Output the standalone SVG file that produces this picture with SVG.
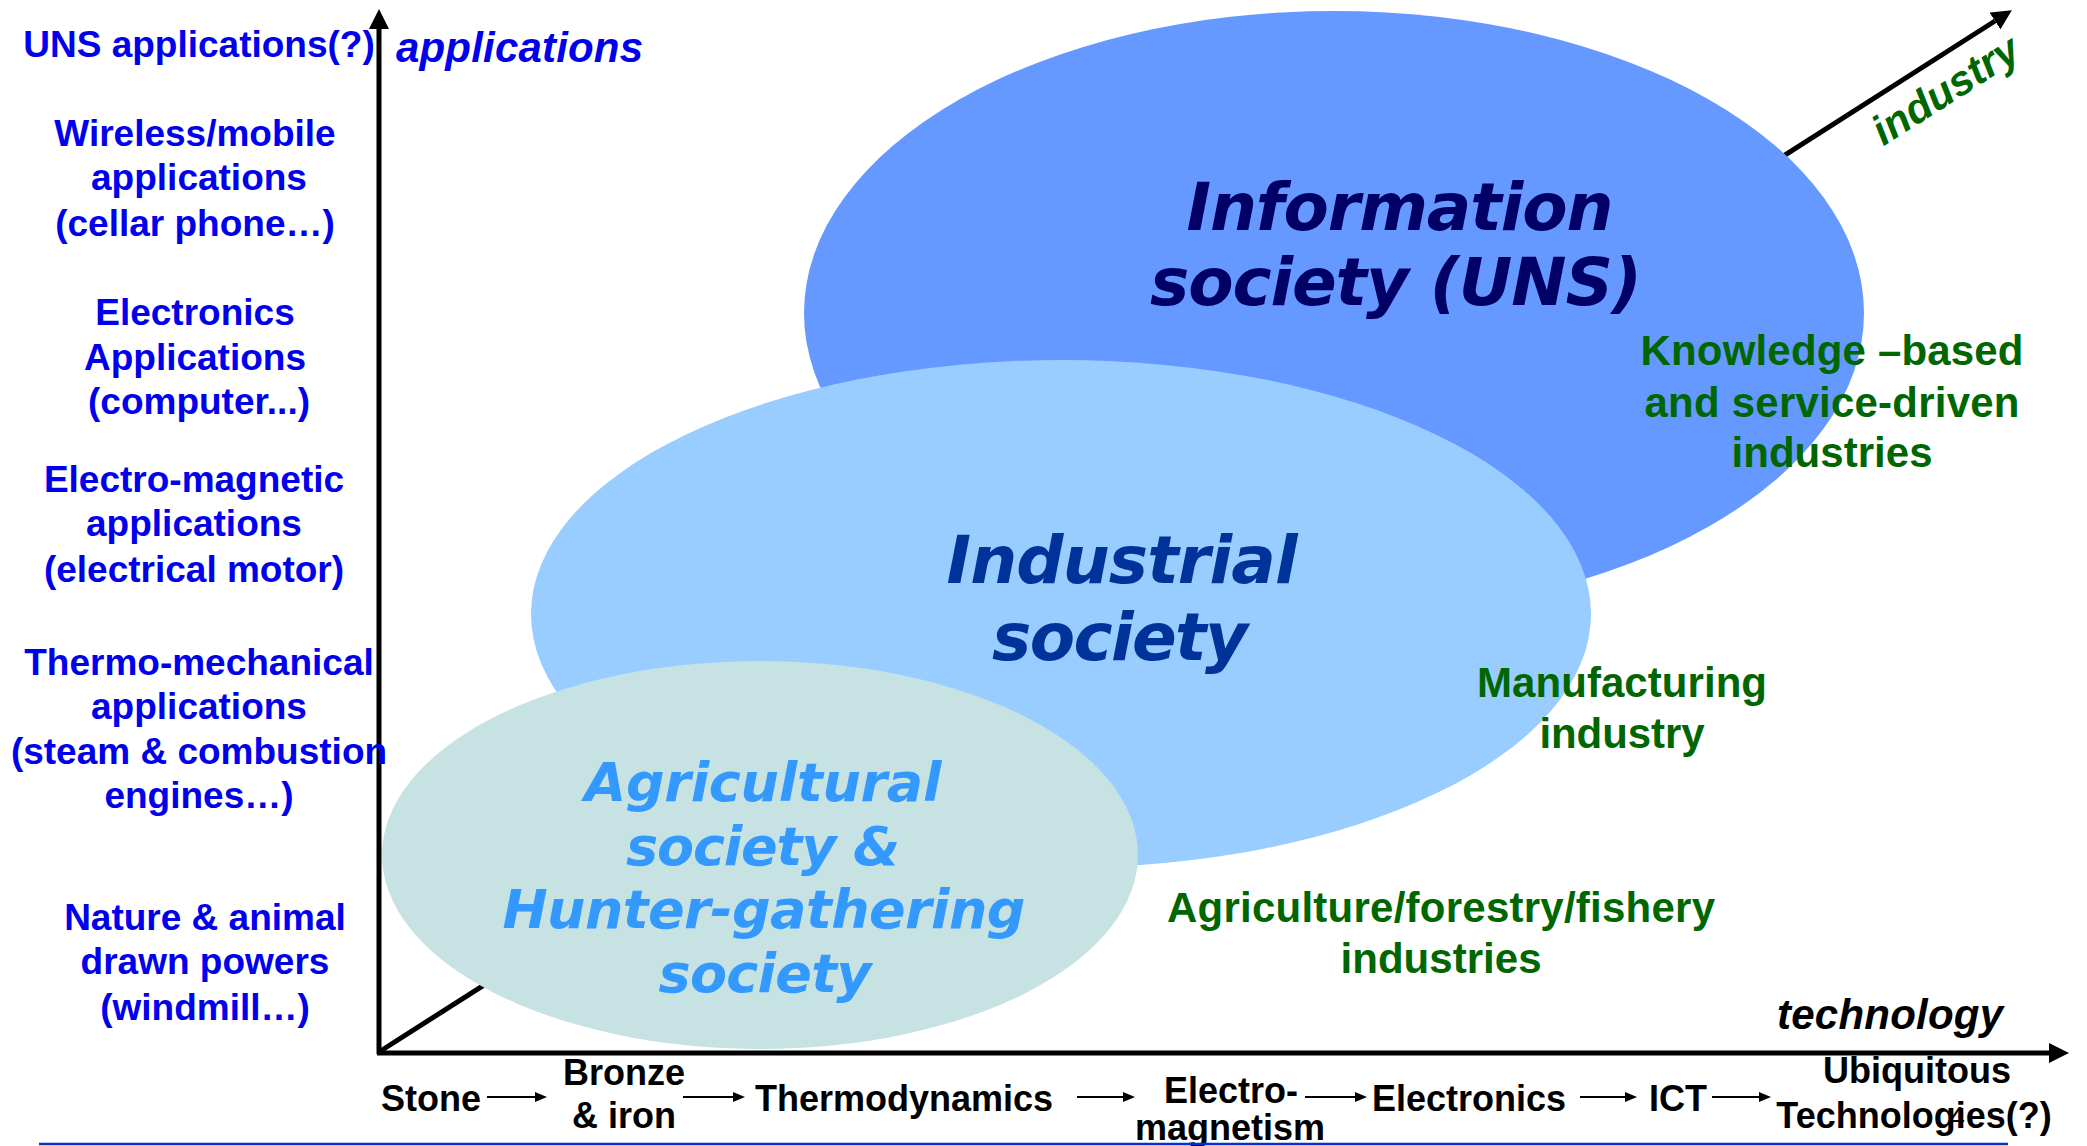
<svg xmlns="http://www.w3.org/2000/svg" width="2087" height="1146" viewBox="0 0 2087 1146">
<style>
.app{font-family:"Liberation Sans",Arial,sans-serif;font-weight:bold;font-size:37px;fill:#0000EE;text-anchor:middle}
.ind{font-family:"Liberation Sans",Arial,sans-serif;font-weight:bold;font-size:42px;fill:#006600;text-anchor:middle}
.tech{font-family:"Liberation Sans",Arial,sans-serif;font-weight:bold;font-size:36px;fill:#000;text-anchor:middle}
.axl{font-family:"Liberation Sans",Arial,sans-serif;font-weight:bold;font-style:italic;font-size:42px}
.soc{font-family:"DejaVu Sans",Verdana,sans-serif;font-weight:bold;font-style:oblique;text-anchor:middle}
.axis{stroke:#000;stroke-width:5;fill:none}
.step{stroke:#000;stroke-width:2;fill:none}
</style>
<defs>
<marker id="axisHead" viewBox="0 0 20 20" refX="0" refY="10" markerWidth="20" markerHeight="20" orient="auto" markerUnits="userSpaceOnUse"><path d="M0,0 L20,10 L0,20 Z" fill="#000"/></marker>
<marker id="stepHead" viewBox="0 0 12 12" refX="0" refY="6" markerWidth="12" markerHeight="12" orient="auto" markerUnits="userSpaceOnUse"><path d="M0,1 L12,6 L0,11 Z" fill="#000"/></marker>
</defs>
<rect width="2087" height="1146" fill="#fff"/>

<g id="connectors">
<line class="axis" x1="379" y1="1052" x2="1995" y2="21" marker-end="url(#axisHead)"/>
</g>

<g id="information-society">
<ellipse cx="1334" cy="313" rx="530" ry="302" fill="#6699FF"/>
<text class="soc" fill="#000066" font-size="66" x="1400" y="230" textLength="427">Information</text>
<text class="soc" fill="#000066" font-size="66" x="1396" y="305" textLength="492">society (UNS)</text>
</g>

<g id="industrial-society">
<ellipse cx="1061" cy="614" rx="530" ry="254" fill="#99CCFF"/>
<text class="soc" fill="#003399" font-size="66" x="1122" y="583" textLength="351">Industrial</text>
<text class="soc" fill="#003399" font-size="66" x="1120" y="660" textLength="256">society</text>
</g>

<g id="agricultural-society">
<ellipse cx="760" cy="855" rx="378" ry="194" fill="#C6E2E2"/>
<text class="soc" fill="#3399FF" font-size="54" x="763" y="801" textLength="357">Agricultural</text>
<text class="soc" fill="#3399FF" font-size="54" x="763" y="865" textLength="274">society &amp;</text>
<text class="soc" fill="#3399FF" font-size="54" x="764" y="928" textLength="523">Hunter-gathering</text>
<text class="soc" fill="#3399FF" font-size="54" x="765" y="992" textLength="213">society</text>
</g>

<g id="axes">
<line class="axis" x1="379" y1="1054" x2="379" y2="29" marker-end="url(#axisHead)"/>
<line class="axis" x1="377" y1="1053" x2="2049" y2="1053" marker-end="url(#axisHead)"/>
</g>

<g id="axis-labels">
<text class="axl" fill="#0000EE" x="396" y="62" textLength="247">applications</text>
<text class="axl" fill="#000" x="1777" y="1029" textLength="226">technology</text>
<text class="axl" fill="#006600" font-size="40" text-anchor="middle" transform="translate(1953,102) rotate(-32.54)">industry</text>
</g>

<g id="applications-labels">
<text class="app" x="199" y="57">UNS applications(?)</text>
<text class="app" x="195" y="146">Wireless/mobile</text>
<text class="app" x="199" y="190">applications</text>
<text class="app" x="195" y="236">(cellar phone…)</text>
<text class="app" x="195" y="325">Electronics</text>
<text class="app" x="195" y="370">Applications</text>
<text class="app" x="199" y="414">(computer...)</text>
<text class="app" x="194" y="492">Electro-magnetic</text>
<text class="app" x="194" y="536">applications</text>
<text class="app" x="194" y="582">(electrical motor)</text>
<text class="app" x="199" y="675">Thermo-mechanical</text>
<text class="app" x="199" y="719">applications</text>
<text class="app" x="199" y="764">(steam &amp; combustion</text>
<text class="app" x="199" y="808">engines…)</text>
<text class="app" x="205" y="930">Nature &amp; animal</text>
<text class="app" x="205" y="974">drawn powers</text>
<text class="app" x="205" y="1020">(windmill…)</text>
</g>

<g id="industry-labels">
<text class="ind" x="1832" y="365" textLength="383">Knowledge –based</text>
<text class="ind" x="1832" y="417" textLength="375">and service-driven</text>
<text class="ind" x="1832" y="467" textLength="201">industries</text>
<text class="ind" x="1622" y="697" textLength="290">Manufacturing</text>
<text class="ind" x="1622" y="748" textLength="165">industry</text>
<text class="ind" x="1441" y="922" textLength="548">Agriculture/forestry/fishery</text>
<text class="ind" x="1441" y="973" textLength="201">industries</text>
</g>

<g id="technology-steps">
<text class="tech" x="431" y="1111">Stone</text>
<text class="tech" x="624" y="1085">Bronze</text>
<text class="tech" x="624" y="1128">&amp; iron</text>
<text class="tech" x="904" y="1111">Thermodynamics</text>
<text class="tech" x="1231" y="1103">Electro-</text>
<text class="tech" x="1230" y="1140">magnetism</text>
<text class="tech" x="1469" y="1111">Electronics</text>
<text class="tech" x="1678" y="1111">ICT</text>
<text class="tech" x="1917" y="1083">Ubiquitous</text>
<text class="tech" x="1914" y="1128">Technologies(?)</text>
<text x="1957" y="1126" font-family="Liberation Sans,Arial,sans-serif" font-size="28" fill="#000" text-anchor="middle">4</text>
</g>

<g id="step-arrows">
<line class="step" x1="487" y1="1097" x2="535" y2="1097" marker-end="url(#stepHead)"/>
<line class="step" x1="683" y1="1097" x2="733" y2="1097" marker-end="url(#stepHead)"/>
<line class="step" x1="1077" y1="1097" x2="1123" y2="1097" marker-end="url(#stepHead)"/>
<line class="step" x1="1305" y1="1097" x2="1355" y2="1097" marker-end="url(#stepHead)"/>
<line class="step" x1="1580" y1="1097" x2="1625" y2="1097" marker-end="url(#stepHead)"/>
<line class="step" x1="1712" y1="1097" x2="1759" y2="1097" marker-end="url(#stepHead)"/>
</g>

<line id="footer-rule" x1="39" y1="1144" x2="2008" y2="1144" stroke="#0033CC" stroke-width="2.5"/>
</svg>
